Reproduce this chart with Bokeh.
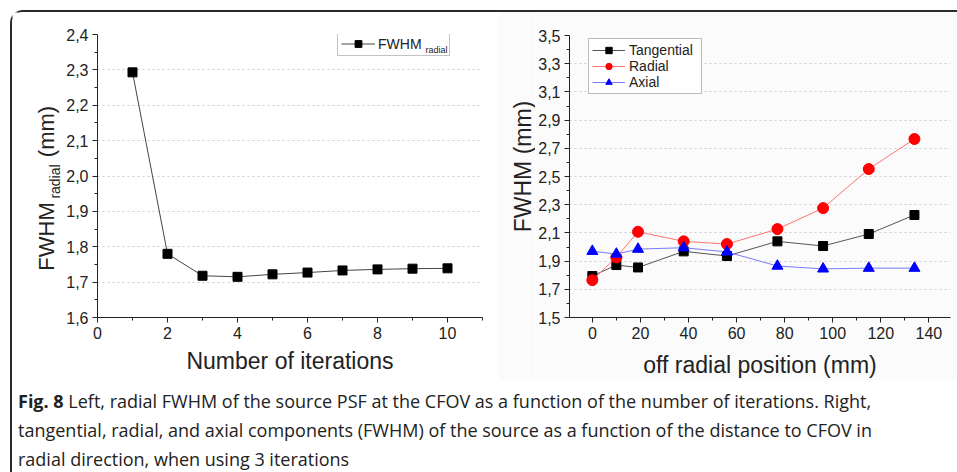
import math
from bokeh.plotting import figure
from bokeh.models import FixedTicker, Legend, LegendItem, Label, Div, Range1d
from bokeh.core.properties import value
from bokeh.layouts import row, column
from bokeh.embed import file_html
from bokeh.resources import INLINE

# ---------------- data ----------------
iterations = [1, 2, 3, 4, 5, 6, 7, 8, 9, 10]
fwhm_radial = [2.293, 1.780, 1.718, 1.715, 1.722, 1.727, 1.733, 1.736, 1.738, 1.739]

left_yticks = [1.6, 1.7, 1.8, 1.9, 2.0, 2.1, 2.2, 2.3, 2.4]
left_ylabels = ["1,6", "1,7", "1,8", "1,9", "2,0", "2,1", "2,2", "2,3", "2,4"]
left_yminor = [1.65, 1.75, 1.85, 1.95, 2.05, 2.15, 2.25, 2.35]
left_ygrid = [1.7, 1.8, 1.9, 2.0, 2.1, 2.2, 2.3]
left_xticks = [0, 2, 4, 6, 8, 10]
left_xminor = [1, 3, 5, 7, 9, 11]

positions = [0, 10, 19, 38, 56, 77, 96, 115, 134]
tangential = [1.794, 1.872, 1.855, 1.969, 1.936, 2.040, 2.007, 2.092, 2.227]
radial = [1.765, 1.926, 2.108, 2.040, 2.021, 2.127, 2.276, 2.553, 2.766]
axial = [1.970, 1.950, 1.985, 1.995, 1.965, 1.865, 1.845, 1.850, 1.850]

right_yticks = [1.5, 1.7, 1.9, 2.1, 2.3, 2.5, 2.7, 2.9, 3.1, 3.3, 3.5]
right_ylabels = ["1,5", "1,7", "1,9", "2,1", "2,3", "2,5", "2,7", "2,9", "3,1", "3,3", "3,5"]
right_yminor = [1.6, 1.8, 2.0, 2.2, 2.4, 2.6, 2.8, 3.0, 3.2, 3.4]
right_ygrid = [1.7, 1.9, 2.1, 2.3, 2.5, 2.7, 2.9, 3.1, 3.3]
right_xticks = [0, 20, 40, 60, 80, 100, 120, 140]
right_xminor = [10, 30, 50, 70, 90, 110, 130]

caption_lines = [
    "<b>Fig. 8</b> Left, radial FWHM of the source PSF at the CFOV as a function of the number of iterations. Right,",
    "tangential, radial, and axial components (FWHM) of the source as a function of the distance to CFOV in",
    "radial direction, when using 3 iterations",
]

FONT = "Liberation Sans"
AX = "#222222"
RBG = "#fbfbfb"


def style(p, xt, xm, yt, ym, ylab, ygrid):
    p.outline_line_color = None
    p.xaxis.ticker = FixedTicker(ticks=xt, minor_ticks=xm)
    p.yaxis.ticker = FixedTicker(ticks=yt, minor_ticks=ym)
    p.yaxis.major_label_overrides = {v: s for v, s in zip(yt, ylab)}
    for ax in (p.xaxis[0], p.yaxis[0]):
        ax.axis_line_color = AX
        ax.major_tick_line_color = AX
        ax.minor_tick_line_color = AX
        ax.major_tick_out = 5
        ax.major_tick_in = 0
        ax.minor_tick_out = 3
        ax.minor_tick_in = 0
        ax.major_label_text_font = FONT
        ax.major_label_text_font_size = "16px"
        ax.major_label_text_color = AX
        ax.major_label_standoff = 4
        ax.axis_label_text_font = FONT
        ax.axis_label_text_font_size = "23px"
        ax.axis_label_text_font_style = "normal"
        ax.axis_label_text_color = AX
    p.xgrid.visible = False
    p.ygrid.ticker = FixedTicker(ticks=ygrid)
    p.ygrid.grid_line_color = "#cdcdcd"
    p.ygrid.grid_line_dash = "2 3"
    p.ygrid.grid_line_width = 1


def label_strip(x0, x1, bg):
    # narrow axis-less strip: x = page pixel, y = minus page pixel (so "up" stays up)
    f = figure(width=x1 - x0, height=368, x_range=Range1d(x0, x1), y_range=Range1d(-380, -12),
               x_axis_type=None, y_axis_type=None, min_border=0,
               min_border_left=0, min_border_right=0, min_border_top=0, min_border_bottom=0,
               frame_align=False, output_backend="svg", toolbar_location=None)
    f.outline_line_color = None
    f.background_fill_color = bg
    f.border_fill_color = bg
    return f


def vtext(f, x, y, s, size):
    f.text(x=[x], y=[-y], text=[s], angle=math.pi / 2, text_font=value(FONT),
           text_font_size=size, text_color=AX, text_baseline="alphabetic", text_align="center")


# ---------------- left y title ----------------
ls = label_strip(12, 62, "white")
vtext(ls, 46, 236, "FWHM", "22px")
vtext(ls, 54, 181, "radial", "14px")
vtext(ls, 46, 131, "(mm)", "22px")

# ---------------- left plot ----------------
pl = figure(width=436, height=368, x_range=Range1d(0, 11), y_range=Range1d(1.6, 2.4),
            output_backend="svg", toolbar_location=None, frame_align=False,
            min_border_left=35, min_border_right=16, min_border_top=22, min_border_bottom=63)
style(pl, left_xticks, left_xminor, left_yticks, left_yminor, left_ylabels, left_ygrid)
pl.xaxis.axis_label = "Number of iterations"
pl.xaxis.axis_label_standoff = 6

l1 = pl.line(iterations, fwhm_radial, line_color="#444444", line_width=1)
s1 = pl.scatter(iterations, fwhm_radial, marker="square", size=9,
                fill_color="black", line_color="black")

leg1 = Legend(items=[LegendItem(label="FWHM", renderers=[l1, s1])],
              location=(240, 261), padding=3, spacing=0, margin=0,
              glyph_width=34, glyph_height=17, label_height=17, label_width=68,
              label_standoff=3, border_line_color="#888888", border_line_width=1,
              label_text_font=FONT, label_text_font_size="14px", label_text_color=AX,
              background_fill_alpha=0.0)
pl.add_layout(leg1, "center")
pl.add_layout(Label(x=328, y=263, x_units="screen", y_units="screen", text="radial",
                    text_font=FONT, text_font_size="9px", text_color=AX))

# ---------------- right y title ----------------
rs = label_strip(498, 535, RBG)
vtext(rs, 522, 166, "FWHM (mm)", "23px")

# ---------------- right plot ----------------
pr = figure(width=422, height=368, x_range=Range1d(-9.5, 149), y_range=Range1d(1.5, 3.5),
            output_backend="svg", toolbar_location=None, frame_align=False,
            min_border_left=33, min_border_right=7, min_border_top=23, min_border_bottom=63)
style(pr, right_xticks, right_xminor, right_yticks, right_yminor, right_ylabels, right_ygrid)
pr.background_fill_color = RBG
pr.border_fill_color = RBG
pr.xaxis.axis_label = "off radial position (mm)"
pr.xaxis.axis_label_standoff = 10

lt = pr.line(positions, tangential, line_color="#555555", line_width=1)
st = pr.scatter(positions, tangential, marker="square", size=9, fill_color="black", line_color="black")
lr = pr.line(positions, radial, line_color="#ff7373", line_width=1)
sr = pr.scatter(positions, radial, marker="circle", size=11, fill_color="#ff0000", line_color="#ff0000")
la = pr.line(positions, axial, line_color="#7a7aff", line_width=1)
sa = pr.scatter(positions, axial, marker="triangle", size=11, fill_color="#0000ff", line_color="#0000ff")

leg2 = Legend(items=[LegendItem(label="Tangential", renderers=[lt, st]),
                     LegendItem(label="Radial", renderers=[lr, sr]),
                     LegendItem(label="Axial", renderers=[la, sa])],
              location=(19, 223), padding=3, spacing=0, margin=0,
              glyph_width=33, glyph_height=16, label_height=16, label_width=69,
              label_standoff=4, border_line_color="#777777", border_line_width=1,
              label_text_font=FONT, label_text_font_size="14px", label_text_color=AX,
              background_fill_color="white", background_fill_alpha=1.0)
pr.add_layout(leg2, "center")

# ---------------- caption ----------------
cap = Div(text="<br>".join(caption_lines), width=945, height=92, margin=0,
          styles={"font-family": "'Open Sans', Lato, sans-serif", "font-size": "18px",
                  "line-height": "29px", "color": "#222222", "padding-left": "6px",
                  "padding-top": "7px", "white-space": "nowrap", "box-sizing": "border-box"})

root = column(row(ls, pl, rs, pr), cap,
              styles={"margin-left": "10px", "margin-top": "10px",
                      "border-left": "2px solid #2a2a2a", "border-top": "2px solid #2a2a2a",
                      "border-top-left-radius": "13px"})

open("out.html", "w").write(file_html(root, INLINE))
